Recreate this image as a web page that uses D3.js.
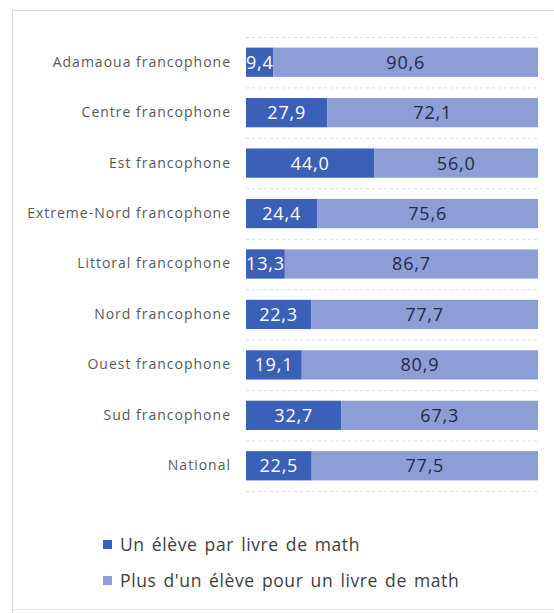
<!DOCTYPE html>
<html>
<head>
<meta charset="utf-8">
<script src="https://cdn.jsdelivr.net/npm/d3@7"></script>
<style>
  body { margin: 0; background: #fff; }
  svg text { font-family: "Open Sans", "Noto Sans", sans-serif; }
</style>
</head>
<body>
<div id="chart"></div>
<script>
var regions = ["Adamaoua francophone", "Centre francophone", "Est francophone",
  "Extreme-Nord francophone", "Littoral francophone", "Nord francophone",
  "Ouest francophone", "Sud francophone", "National"];
var unEleve = [9.4, 27.9, 44.0, 24.4, 13.3, 22.3, 19.1, 32.7, 22.5];
var plusUn = [90.6, 72.1, 56.0, 75.6, 86.7, 77.7, 80.9, 67.3, 77.5];
var seriesNames = ["Un élève par livre de math", "Plus d'un élève pour un livre de math"];
var colors = ["#3a60b8", "#8d9ed7"];

var width = 554, height = 613;
var plotLeft = 246, plotRight = 538, plotTop = 37, plotBottom = 491;

var svg = d3.select("#chart").append("svg")
    .attr("width", width)
    .attr("height", height);

// chart frame
svg.append("path")
    .attr("d", "M12.5,613 V10.5 H554")
    .attr("fill", "none")
    .attr("stroke", "#d9d9d9");
svg.append("line")
    .attr("x1", 12).attr("x2", 554).attr("y1", 609.5).attr("y2", 609.5)
    .attr("stroke", "#e4e4e4");

var x = d3.scaleLinear().domain([0, 100]).range([plotLeft, plotRight]);
var y = d3.scaleBand().domain(regions).range([plotTop, plotBottom]).paddingInner(0.42).paddingOuter(0.21);

// dotted separators
var seps = d3.range(regions.length + 1).map(function(i) {
  return plotTop + i * (plotBottom - plotTop) / regions.length;
});
svg.selectAll(".sep").data(seps).enter().append("line")
    .attr("x1", plotLeft).attr("x2", plotRight + 2)
    .attr("y1", function(d) { return d + 0.5; })
    .attr("y2", function(d) { return d + 0.5; })
    .attr("stroke", "#dcdcdc")
    .attr("stroke-dasharray", "3,3");

var rows = regions.map(function(r, i) {
  return { name: r, a: unEleve[i], b: plusUn[i] };
});

svg.append("clipPath").attr("id", "plot")
  .append("rect").attr("x", plotLeft).attr("y", 0).attr("width", plotRight - plotLeft + 2).attr("height", height);

var g = svg.selectAll(".row").data(rows).enter().append("g")
    .attr("transform", function(d) { return "translate(0," + y(d.name) + ")"; });

g.append("rect")
    .attr("x", x(0))
    .attr("width", function(d) { return x(d.a) - x(0); })
    .attr("height", y.bandwidth())
    .attr("fill", colors[0]);

g.append("rect")
    .attr("x", function(d) { return x(d.a); })
    .attr("width", function(d) { return x(d.a + d.b) - x(d.a); })
    .attr("height", y.bandwidth())
    .attr("fill", colors[1]);

var fmt = function(v) { return v.toFixed(1).replace(".", ","); };

var labels = svg.append("g").attr("clip-path", "url(#plot)");
labels.selectAll(".la").data(rows).enter().append("text")
    .attr("x", function(d) { return (x(0) + x(d.a)) / 2; })
    .attr("y", function(d) { return y(d.name) + y.bandwidth() / 2; })
    .attr("dy", "0.36em")
    .attr("text-anchor", "middle")
    .attr("font-size", 18)
    .attr("letter-spacing", 0.8)
    .attr("fill", "#ffffff")
    .text(function(d) { return fmt(d.a); });

labels.selectAll(".lb").data(rows).enter().append("text")
    .attr("x", function(d) { return (x(d.a) + x(d.a + d.b)) / 2; })
    .attr("y", function(d) { return y(d.name) + y.bandwidth() / 2; })
    .attr("dy", "0.36em")
    .attr("text-anchor", "middle")
    .attr("font-size", 18)
    .attr("letter-spacing", 0.8)
    .attr("fill", "#1f2a44")
    .text(function(d) { return fmt(d.b); });

// category axis
var yAxis = d3.axisLeft(y).tickSize(0).tickPadding(15);
var ax = svg.append("g")
    .attr("transform", "translate(" + plotLeft + ",0)")
    .call(yAxis);
ax.select(".domain").remove();
ax.selectAll("text")
    .attr("font-size", 14)
    .attr("letter-spacing", 1)
    .attr("fill", "#595959")
    .style("font-family", "'Open Sans', sans-serif");

// legend
var leg = svg.selectAll(".leg").data(seriesNames).enter().append("g")
    .attr("transform", function(d, i) { return "translate(103," + (545 + i * 36) + ")"; });
leg.append("rect")
    .attr("x", 0).attr("y", -5).attr("width", 9).attr("height", 9)
    .attr("fill", function(d, i) { return colors[i]; });
leg.append("text")
    .attr("x", 17)
    .attr("dy", "0.35em")
    .attr("font-size", 17.5)
    .attr("letter-spacing", 0.6)
    .attr("word-spacing", 2)
    .attr("fill", "#404040")
    .text(function(d) { return d; });
</script>
</body>
</html>
